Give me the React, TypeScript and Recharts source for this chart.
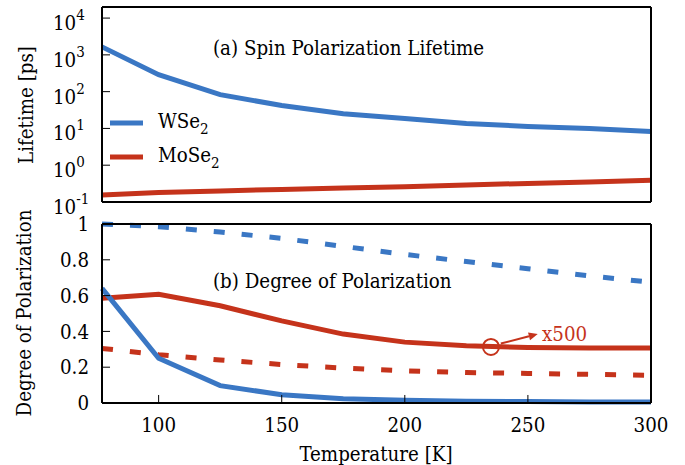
import React from "react";
import { LineChart, Line, XAxis, YAxis, Legend, ReferenceDot, ReferenceLine } from "recharts";

// temperature grid [K]
const temperature = [77, 100, 125, 150, 175, 200, 225, 250, 275, 300];

// (a) spin polarization lifetime [ps]
const lifetimeWSe2 = [1650, 288, 83, 42, 25, 18.6, 13.6, 11.3, 10, 8.3];
const lifetimeMoSe2 = [0.155, 0.18, 0.2, 0.22, 0.24, 0.26, 0.29, 0.32, 0.35, 0.39];

// (b) degree of polarization
const polWSe2 = [0.64, 0.25, 0.097, 0.046, 0.024, 0.015, 0.01, 0.008, 0.006, 0.005];
const polMoSe2x500 = [0.585, 0.607, 0.543, 0.459, 0.385, 0.34, 0.32, 0.31, 0.307, 0.307];
const polWSe2Dash = [1.0, 0.985, 0.955, 0.92, 0.875, 0.83, 0.79, 0.75, 0.71, 0.675];
const polMoSe2Dash = [0.305, 0.27, 0.24, 0.215, 0.195, 0.18, 0.17, 0.165, 0.16, 0.155];

const seriesNames = ["WSe2", "MoSe2"];

// ticks
const xMajor = [100, 150, 200, 250, 300];
const xMinor = [80, 90, 110, 120, 130, 140, 160, 170, 180, 190, 210, 220, 230, 240, 260, 270, 280, 290];
const lifeTicks = [0.1, 1, 10, 100, 1000, 10000];
const polMajor = [0, 0.2, 0.4, 0.6, 0.8, 1];
const polMinor = [0.1, 0.3, 0.5, 0.7, 0.9];

// x500 marker (circle on curve + arrow)
const markerAt = { x: 235, y: 0.313 };
const arrowFrom = { x: 239, y: 0.332 };
const arrowTo = { x: 254, y: 0.385 };

const FONT = "'DejaVu Serif Condensed', 'DejaVu Serif', serif";
const FS = 20.3;
const BLUE = "#3a77c4";
const RED = "#c5331b";
const frameLine = { stroke: "#000", strokeWidth: 2 };
const tickLine = { stroke: "#000", strokeWidth: 1 };
const tickText = { fill: "#000", fontSize: FS, fontFamily: FONT };
const AX = 0.01; // near-zero axis thickness, margins place the plot box

const lifeData = temperature.map((T, i) => ({ T, wse2: lifetimeWSe2[i], mose2: lifetimeMoSe2[i] }));
const polData = temperature.map((T, i) => ({
  T,
  wse2: polWSe2[i],
  mose2: polMoSe2x500[i],
  wse2d: polWSe2Dash[i],
  mose2d: polMoSe2Dash[i],
}));

function xFrame(labels: boolean) {
  const common = { dataKey: "T", type: "number" as const, domain: [77, 300], interval: 0 as const, height: AX };
  return [
    <XAxis key="x" xAxisId="x" {...common} ticks={xMajor} axisLine={frameLine} tickLine={tickLine}
      tickSize={-8} tickMargin={23} tick={labels ? tickText : false} />,
    <XAxis key="xm" xAxisId="xm" {...common} ticks={xMinor} axisLine={false} tickLine={tickLine} tickSize={-4} tick={false} />,
    <XAxis key="xt" xAxisId="xt" orientation="top" {...common} ticks={xMajor} axisLine={frameLine} tickLine={tickLine}
      tickSize={-8} tick={false} />,
    <XAxis key="xtm" xAxisId="xtm" orientation="top" {...common} ticks={xMinor} axisLine={false} tickLine={tickLine}
      tickSize={-4} tick={false} />,
  ];
}

function yFrame(domain: number[], major: number[], minor: number[], scale: "log" | "linear", tick: any) {
  const common = { type: "number" as const, domain, scale, interval: 0 as const, width: AX };
  const axes = [
    <YAxis key="y" yAxisId="y" {...common} ticks={major} axisLine={frameLine} tickLine={tickLine}
      tickSize={-8} tickMargin={21} tick={tick} />,
    <YAxis key="yr" yAxisId="yr" orientation="right" {...common} ticks={major} axisLine={frameLine} tickLine={tickLine}
      tickSize={-8} tick={false} />,
  ];
  if (minor.length) {
    axes.push(
      <YAxis key="ym" yAxisId="ym" {...common} ticks={minor} axisLine={false} tickLine={tickLine} tickSize={-4} tick={false} />,
      <YAxis key="yrm" yAxisId="yrm" orientation="right" {...common} ticks={minor} axisLine={false} tickLine={tickLine}
        tickSize={-4} tick={false} />
    );
  }
  return axes;
}

// 10^n labels
const PowerTick = (props: any) => {
  const { x, y, payload } = props;
  const exp = Math.round(Math.log10(payload.value));
  return (
    <text x={x - 36} y={y + 12} fontFamily={FONT} fontSize={FS} fill="#000">
      10<tspan dy={-10} fontSize={15}>{exp}</tspan>
    </text>
  );
};

const renderLegend = (props: any) => {
  const items = [...(props.payload || [])].sort(
    (a: any, b: any) => seriesNames.indexOf(String(a.value)) - seriesNames.indexOf(String(b.value))
  );
  return (
    <svg width={140} height={75}>
      {items.map((it: any, i: number) => {
        const y = 23 + i * 34;
        const name = String(it.value);
        const base = name.replace(/\d+$/, "");
        const sub = name.slice(base.length);
        return (
          <g key={name}>
            <line x1={10} x2={43} y1={y} y2={y} stroke={it.color} strokeWidth={5} />
            <text x={58} y={y + 5} fontFamily={FONT} fontSize={FS} fill="#000">
              {base}
              <tspan dy={6} fontSize={15}>{sub}</tspan>
            </text>
          </g>
        );
      })}
    </svg>
  );
};

const Arrow = (p: any) => {
  const { x1, y1, x2, y2 } = p;
  const a = Math.atan2(y2 - y1, x2 - x1);
  const L = 9;
  const W = 4;
  const bx = x2 - L * Math.cos(a);
  const by = y2 - L * Math.sin(a);
  const pts = `${x2},${y2} ${bx - W * Math.sin(a)},${by + W * Math.cos(a)} ${bx + W * Math.sin(a)},${by - W * Math.cos(a)}`;
  return (
    <g>
      <line x1={x1} y1={y1} x2={bx} y2={by} stroke={RED} strokeWidth={2} />
      <polygon points={pts} fill={RED} />
    </g>
  );
};

export default function App() {
  const lw = 5;
  return (
    <div style={{ position: "absolute", left: 0, top: 0, width: 685, height: 465, background: "#fff" }}>
      <div style={{ position: "absolute", left: 0, top: 0 }}>
        <LineChart width={685} height={222} data={lifeData} margin={{ top: 7, right: 34, bottom: 20, left: 102 }}>
          {xFrame(false)}
          {yFrame([0.1, 20000], lifeTicks, [], "log", <PowerTick />)}
          <Legend layout="vertical" align="center" verticalAlign="middle" content={renderLegend}
            wrapperStyle={{ left: 100, top: 100, width: 140, height: 75 }} />
          <Line xAxisId="x" yAxisId="y" dataKey="wse2" name="WSe2" stroke={BLUE} strokeWidth={lw} dot={false}
            isAnimationActive={false} />
          <Line xAxisId="x" yAxisId="y" dataKey="mose2" name="MoSe2" stroke={RED} strokeWidth={lw} dot={false}
            isAnimationActive={false} />
        </LineChart>
      </div>
      <div style={{ position: "absolute", left: 0, top: 210 }}>
        <LineChart width={685} height={255} data={polData} margin={{ top: 14, right: 34, bottom: 62, left: 102 }}>
          {xFrame(true)}
          {yFrame([0, 1], polMajor, polMinor, "linear", tickText)}
          <Line xAxisId="x" yAxisId="y" dataKey="wse2d" stroke={BLUE} strokeWidth={lw} strokeDasharray="11 17"
            dot={false} legendType="none" isAnimationActive={false} />
          <Line xAxisId="x" yAxisId="y" dataKey="mose2d" stroke={RED} strokeWidth={lw} strokeDasharray="11 17"
            dot={false} legendType="none" isAnimationActive={false} />
          <Line xAxisId="x" yAxisId="y" dataKey="mose2" stroke={RED} strokeWidth={lw} dot={false}
            legendType="none" isAnimationActive={false} />
          <Line xAxisId="x" yAxisId="y" dataKey="wse2" stroke={BLUE} strokeWidth={lw} dot={false}
            legendType="none" isAnimationActive={false} />
          <ReferenceDot xAxisId="x" yAxisId="y" x={markerAt.x} y={markerAt.y} r={8} fill="none" stroke={RED}
            strokeWidth={2} />
          <ReferenceLine xAxisId="x" yAxisId="y" segment={[arrowFrom, arrowTo]} shape={Arrow} />
        </LineChart>
      </div>
      <svg width={685} height={465} style={{ position: "absolute", left: 0, top: 0, pointerEvents: "none" }}
        fontFamily={FONT} fontSize={FS} fill="#000">
        <text x={33} y={105} textAnchor="middle" transform="rotate(-90 33 105)">Lifetime [ps]</text>
        <text x={31} y={313} textAnchor="middle" transform="rotate(-90 31 313)">Degree of Polarization</text>
        <text x={376} y={461} textAnchor="middle">Temperature [K]</text>
        <text x={213} y={55}>(a) Spin Polarization Lifetime</text>
        <text x={213} y={288}>(b) Degree of Polarization</text>
        <text x={542} y={341} fill={RED}>x500</text>
      </svg>
    </div>
  );
}
